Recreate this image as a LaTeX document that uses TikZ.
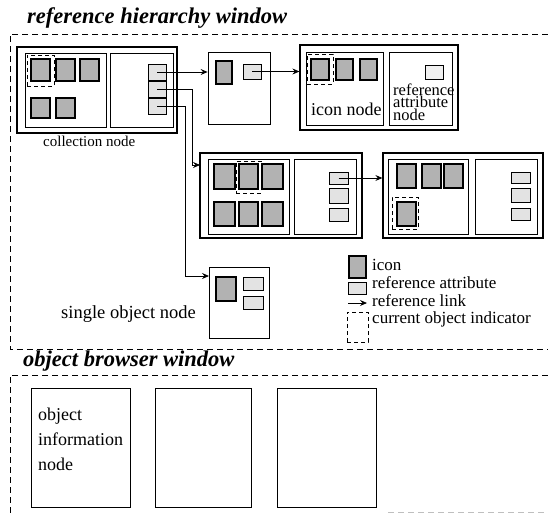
\documentclass[tikz,border=0pt]{standalone}
\usepackage{fontspec}
\setmainfont{Liberation Serif}
\usetikzlibrary{fit,arrows.meta}
\begin{document}
\begin{tikzpicture}[x=1pt,y=-1pt,
  frame/.style={dash pattern=on 6pt off 4pt, line width=0.9pt},
  outerbox/.style={draw, line width=1.3pt, inner sep=0pt},
  innerbox/.style={draw, line width=0.7pt, inner sep=0pt},
  icon/.style={draw, line width=1.1pt, fill=gray!60, inner sep=0pt},
  refattr/.style={draw, line width=0.8pt, fill=gray!22, inner sep=0pt},
  curind/.style={draw, dash pattern=on 4pt off 3pt, line width=0.9pt, inner sep=0pt},
  link/.style={line width=0.8pt, -{Stealth[length=7pt,width=6pt,inset=2.5pt]}},
  title/.style={font=\fontsize{22.5}{24}\selectfont\bfseries\itshape, inner sep=0pt, anchor=base west},
  lbl/.style={inner sep=0pt, anchor=base west},
]
\useasboundingbox (0,0) rectangle (548,514);

% window frames
\coordinate (fTL) at (10,34); \coordinate (fTR) at (548,34);
\coordinate (fBL) at (10,349); \coordinate (fBR) at (548,349);
\draw[frame] (fTR) -- (fTL) -- (fBL) -- (fBR);
\node[title] (t1) at (27,23) {reference hierarchy window};
\node[title] (t2) at (23,366) {object browser window};
\coordinate (gTL) at (10,375); \coordinate (gTR) at (548,375);
\coordinate (gBL) at (10,514);
\draw[frame] (gTR) -- (gTL) -- (gBL);
\coordinate (gB1) at (388,512.5); \coordinate (gB2) at (548,512.5);
\draw[frame, gray!50, line width=0.6pt] (gB1) -- (gB2);

% collection node
\node[outerbox, fit={(17,47)(177,133)}] (cn) {};
\node[innerbox, fit={(25,53)(106,127)}] (cnL) {};
\node[innerbox, fit={(110,53)(173,127)}] (cnR) {};
\node[icon, fit={(31,59)(50,81)}] (ci1) {};
\node[icon, fit={(56,59)(75,81)}] (ci2) {};
\node[icon, fit={(80,59)(99,81)}] (ci3) {};
\node[icon, fit={(31,98)(50,118)}] (ci4) {};
\node[icon, fit={(56,98)(75,118)}] (ci5) {};
\node[curind, fit={(27,55)(54,86)}] (cc) {};
\node[refattr, fit={(148,64)(166,80)}] (cr1) {};
\node[refattr, fit={(148,81)(166,97)}] (cr2) {};
\node[refattr, fit={(148,98)(166,114)}] (cr3) {};
\node[lbl, font=\fontsize{15}{18}\selectfont] (cnlab) at (43,146) {collection node};

% node 2
\node[innerbox, line width=0.8pt, fit={(208,52)(270,124)}] (n2) {};
\node[icon, fit={(216,61)(232,84)}] (n2i) {};
\node[refattr, fit={(243,64)(261,79)}] (n2r) {};

% node 3
\node[outerbox, fit={(300,45)(458,130)}] (n3) {};
\node[innerbox, fit={(306,52)(383,125)}] (n3L) {};
\node[innerbox, fit={(389,52)(452,125)}] (n3R) {};
\node[icon, fit={(311,59)(329,80)}] (n3i1) {};
\node[icon, fit={(336,59)(353,80)}] (n3i2) {};
\node[icon, fit={(360,59)(377,80)}] (n3i3) {};
\node[curind, fit={(307,54)(333,84)}] (n3c) {};
\node[refattr, line width=0.5pt, fill=gray!12, fit={(425,65)(443,79)}] (n3r) {};
\node[lbl, font=\fontsize{18}{20}\selectfont] (n3lab) at (311,115) {icon node};
\node[inner sep=0pt, anchor=north west, align=left,
      font={\fontsize{16.5}{12.5}\selectfont\lineskiplimit=-30pt}] (n3t) at (393,83.5)
      {reference\\attribute\\node};

% node 4
\node[outerbox, fit={(200,153)(362,238)}] (n4) {};
\node[innerbox, fit={(208,159)(289,234)}] (n4L) {};
\node[innerbox, fit={(294,159)(356,234)}] (n4R) {};
\node[icon, fit={(214,164)(235,189)}] (n4i1) {};
\node[icon, fit={(239,164)(258,189)}] (n4i2) {};
\node[icon, fit={(262,164)(283,189)}] (n4i3) {};
\node[icon, fit={(214,202)(235,226)}] (n4i4) {};
\node[icon, fit={(239,202)(258,226)}] (n4i5) {};
\node[icon, fit={(262,202)(283,226)}] (n4i6) {};
\node[curind, fit={(236,161)(261,193)}] (n4c) {};
\node[refattr, fit={(329,172)(348,184)}] (n4r1) {};
\node[refattr, fit={(329,188)(348,203)}] (n4r2) {};
\node[refattr, fit={(329,208)(348,221)}] (n4r3) {};

% node 5
\node[outerbox, fit={(383,153)(543,238)}] (n5) {};
\node[innerbox, fit={(388,159)(468,234)}] (n5L) {};
\node[innerbox, fit={(475,159)(537,234)}] (n5R) {};
\node[icon, fit={(397,164)(416,188)}] (n5i1) {};
\node[icon, fit={(422,164)(441,188)}] (n5i2) {};
\node[icon, fit={(444,164)(463,188)}] (n5i3) {};
\node[icon, fit={(397,202)(416,226)}] (n5i4) {};
\node[curind, fit={(392,197)(418,229)}] (n5c) {};
\node[refattr, fit={(511,172)(530,183)}] (n5r1) {};
\node[refattr, fit={(511,188)(530,202)}] (n5r2) {};
\node[refattr, fit={(511,208)(530,220)}] (n5r3) {};

% single object node
\node[innerbox, line width=0.8pt, fit={(209,267)(269,338)}] (sn) {};
\node[icon, fit={(216,277)(236,301)}] (sni) {};
\node[refattr, fit={(243,277)(263,290)}] (snr1) {};
\node[refattr, fit={(243,296)(263,309)}] (snr2) {};
\node[lbl, font=\fontsize{18.5}{20}\selectfont] (snlab) at (61,318) {single object node};

% connectors
\coordinate (b2) at (192,0);
\coordinate (b3) at (185,0);
\coordinate (t4) at (200,165);
\coordinate (ts) at (209,276);
\draw[link] (cr1.center) -- (cr1.center -| n2.west);
\draw[link] (cr2.center) -- (cr2.center -| b2) -- (b2 |- t4) -- (t4);
\draw[link] (cr3.center) -- (cr3.center -| b3) -- (b3 |- ts) -- (ts);
\draw[link, line width=0.5pt] (n2r.center) -- (n2r.center -| n3.west);
\draw[link] (n4r1.center) -- (n4r1.center -| n5.west);

% legend
\node[icon, line width=2.5pt, fit={(349,256)(366,278)}] (lgi) {};
\node[refattr, fit={(348,282)(366,294)}] (lgr) {};
\coordinate (la1) at (348,303); \coordinate (la2) at (367,303);
\draw[link] (la1) -- (la2);
\node[curind, fit={(347,312)(368,342)}] (lgc) {};
\node[lbl, font=\fontsize{17}{18}\selectfont] (lt1) at (372,270) {icon};
\node[lbl, font=\fontsize{17}{18}\selectfont] (lt2) at (372,288) {reference attribute};
\node[lbl, font=\fontsize{17}{18}\selectfont] (lt3) at (372,306) {reference link};
\node[lbl, font=\fontsize{17}{18}\selectfont] (lt4) at (372,323) {current object indicator};

% object browser window
\node[innerbox, line width=0.8pt, fit={(31,388)(130,507)}] (ob1) {};
\node[innerbox, line width=0.8pt, fit={(155,388)(251,507)}] (ob2) {};
\node[innerbox, line width=0.8pt, fit={(277,388)(376,507)}] (ob3) {};
\node[inner sep=0pt, anchor=north west, align=left,
      font={\fontsize{18}{25}\selectfont}] (obt) at (38,407.5)
      {object\\information\\node};
\end{tikzpicture}
\end{document}
